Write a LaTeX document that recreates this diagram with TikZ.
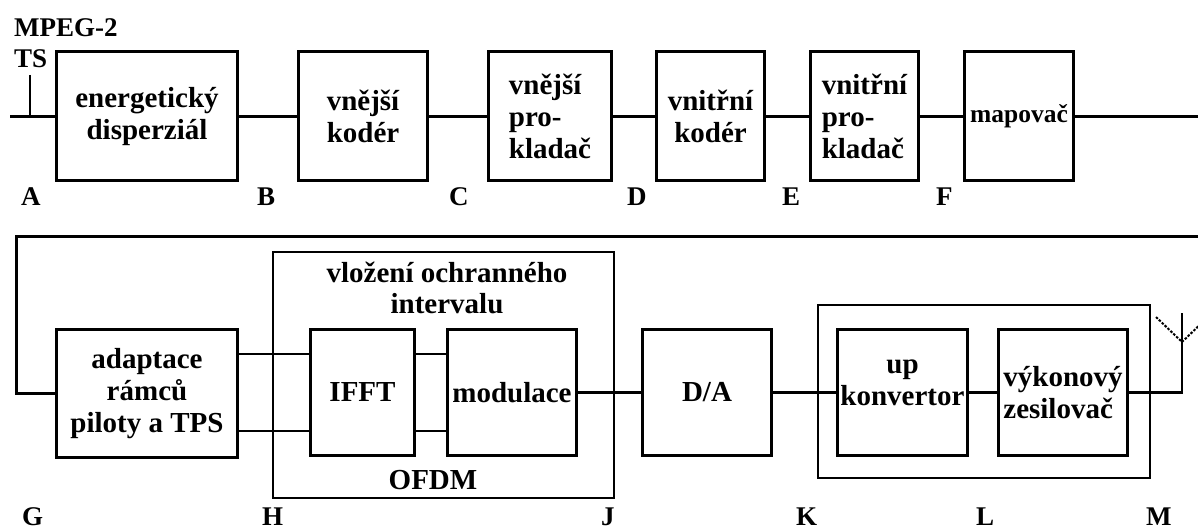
\documentclass[tikz,border=0pt]{standalone}
\usepackage{fontspec}
\setmainfont{Liberation Serif}
\begin{document}
\begin{tikzpicture}[x=1pt,y=-1pt,
  blk/.style={draw,line width=3pt,inner sep=0pt,align=center,font=\fontsize{29}{32}\selectfont\bfseries},
  blkl/.style={blk,align=left},
  frame/.style={draw,line width=1.5pt},
  wire/.style={line width=3pt},
  wirethin/.style={line width=2.5pt},
  txt/.style={inner sep=0pt,font=\fontsize{29}{32}\selectfont\bfseries},
  lbl/.style={inner sep=0pt,anchor=base west,font=\fontsize{27}{30}\selectfont\bfseries}]
\useasboundingbox[fill=white] (0,0) rectangle (1198,529);
% top row
\node[blk,minimum width=181,minimum height=129] (b1) at (147,116.5) {energetický\\disperziál};
\node[blk,minimum width=129,minimum height=129] (b2) at (363,116.5) {vnější\\kodér};
\node[blkl,minimum width=123,minimum height=129] (b3) at (550,116.5) {vnější\\pro-\\kladač};
\node[blk,minimum width=108,minimum height=129] (b4) at (710.5,116.5) {vnitřní\\kodér};
\node[blkl,minimum width=108,minimum height=129] (b5) at (864.5,116.5) {vnitřní\\pro-\\kladač};
\node[blk,minimum width=109,minimum height=129,font=\fontsize{25.5}{30}\selectfont\bfseries] (b6) at (1019,116.5) {mapovač};
\coordinate (in) at (10,116.5);
\coordinate (tickT) at (30,75);
\coordinate (tickB) at (30,115);
\coordinate (outR) at (1198,116.5);
\draw[wire] (in) -- (b1.west);
\draw[line width=1.5pt] (tickT) -- (tickB);
\draw[wire] (b1.east) -- (b2.west);
\draw[wire] (b2.east) -- (b3.west);
\draw[wire] (b3.east) -- (b4.west);
\draw[wire] (b4.east) -- (b5.west);
\draw[wire] (b5.east) -- (b6.west);
\draw[wire] (b6.east) -- (outR);
\node[lbl] (mpeg) at (14,37) {MPEG-2};
\node[lbl] (ts) at (14,68) {TS};
\node[lbl] (lA) at (21,206) {A};
\node[lbl] (lB) at (257,206) {B};
\node[lbl] (lC) at (449,206) {C};
\node[lbl] (lD) at (627,206) {D};
\node[lbl] (lE) at (782,206) {E};
\node[lbl] (lF) at (936,206) {F};
% bottom row
\draw[frame] (273,252) rectangle (614,498);
\draw[frame] (818,305) rectangle (1150,478);
\node[blk,minimum width=181,minimum height=128] (ad) at (147,393.5) {adaptace\\rámců\\piloty a TPS};
\node[blk,minimum width=104,minimum height=126] (ifft) at (362.5,392.5) {IFFT};
\node[blk,minimum width=129,minimum height=126] (mod) at (512,392.5) {modulace};
\node[blk,minimum width=129,minimum height=126] (da) at (707,392.5) {D/A};
\node[blk,minimum width=130,minimum height=126] (up) at (902.5,392.5) {};
\node[txt,align=center] (uptxt) at (902.5,383) {up\\konvertor};
\node[blkl,minimum width=129,minimum height=126] (vyk) at (1063,392.5) {výkonový\\zesilovač};
\node[txt,anchor=base] (vlo) at (447,282) {vložení ochranného};
\node[txt,anchor=base] (intv) at (447,313) {intervalu};
\node[txt,anchor=base] (ofdm) at (433,489) {OFDM};
\coordinate (retR) at (1198,237);
\coordinate (retL) at (16,237);
\draw[wire] (retR) -- (retL) |- (ad.west);
\coordinate (ya) at (0,354);
\coordinate (yb) at (0,431);
\draw[wirethin] (ad.east |- ya) -- (ifft.west |- ya);
\draw[wirethin] (ad.east |- yb) -- (ifft.west |- yb);
\draw[wirethin] (ifft.east |- ya) -- (mod.west |- ya);
\draw[wirethin] (ifft.east |- yb) -- (mod.west |- yb);
\draw[wirethin] (mod.east) -- (da.west);
\draw[wirethin] (da.east) -- (up.west);
\draw[wirethin] (up.east) -- (vyk.west);
\coordinate (mast) at (1182,313);
\coordinate (feed) at (1182,342);
\coordinate (armL) at (1156,317);
\coordinate (armR) at (1208,317);
\draw[wirethin] (vyk.east) -| (mast);
\draw[line width=2pt,dash pattern=on 2.5pt off 1.5pt] (armL) -- (feed) -- (armR);
\node[lbl] (lG) at (22,525) {G};
\node[lbl] (lH) at (262,525) {H};
\node[lbl] (lJ) at (601,525) {J};
\node[lbl] (lK) at (796,525) {K};
\node[lbl] (lL) at (976,525) {L};
\node[lbl] (lM) at (1146,525) {M};
\end{tikzpicture}
\end{document}
